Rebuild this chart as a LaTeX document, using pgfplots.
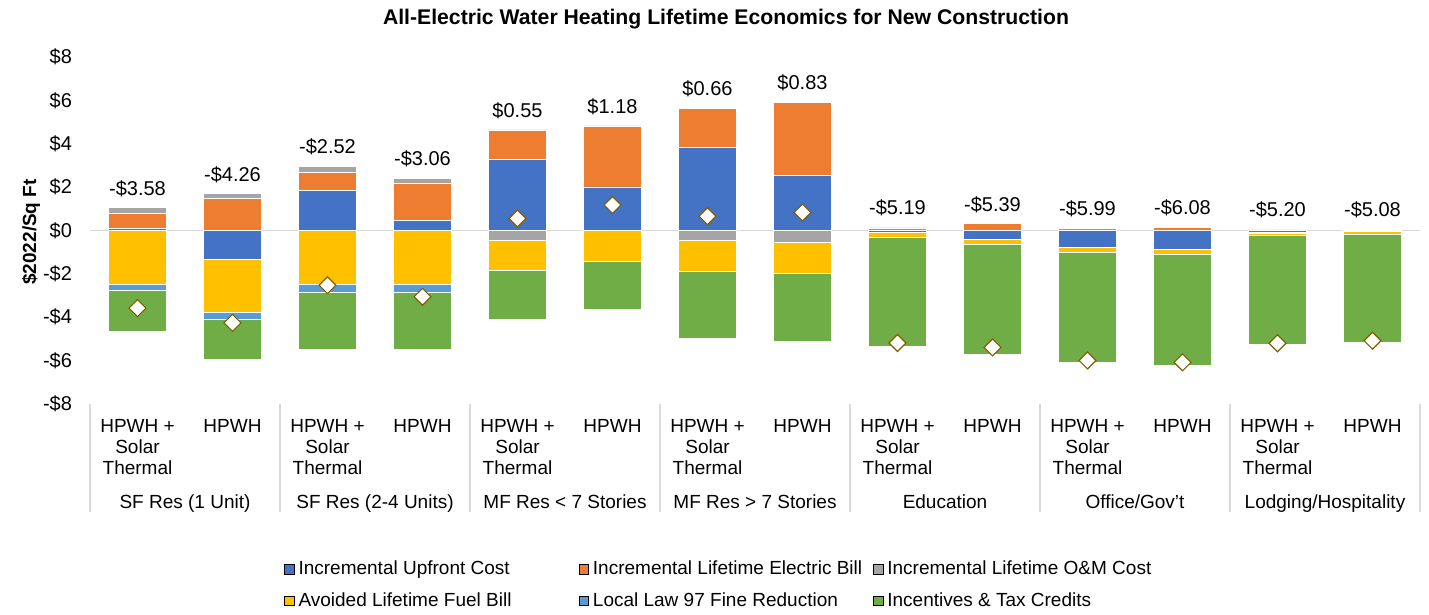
\documentclass[border=0pt]{standalone}
\usepackage{pgfplots}
\usepackage{pgfplotstable}
\pgfplotsset{compat=1.18}
\usepackage{fontspec}
\setmainfont{Liberation Sans}

\definecolor{cblue}{HTML}{4472C4}
\definecolor{corange}{HTML}{ED7D31}
\definecolor{cgray}{HTML}{A5A5A5}
\definecolor{cyellow}{HTML}{FFC000}
\definecolor{clblue}{HTML}{5B9BD5}
\definecolor{cgreen}{HTML}{70AD47}
\definecolor{dmd}{HTML}{7F6000}
\definecolor{zline}{HTML}{D9D9D9}

% positive parts of each bar ($/sq ft)
\pgfplotstableread{
x blue orange gray
0  0.08 0.71 0.26
1  0.00 1.48 0.22
2  1.83 0.85 0.28
3  0.45 1.74 0.22
4  3.29 1.35 0.00
5  2.01 2.81 0.00
6  3.83 1.80 0.00
7  2.54 3.38 0.00
8  0.00 0.12 0.03
9  0.00 0.31 0.00
10 0.00 0.08 0.03
11 0.00 0.14 0.00
12 0.00 0.03 0.03
13 0.00 0.06 0.00
}\pos

% negative parts
\pgfplotstableread{
x blue gray yellow lblue green
0   0.00  0.00 -2.46 -0.31 -1.86
1  -1.32  0.00 -2.44 -0.32 -1.88
2   0.00  0.00 -2.46 -0.40 -2.62
3   0.00  0.00 -2.46 -0.37 -2.64
4   0.00 -0.46 -1.38  0.00 -2.25
5   0.00  0.00 -1.41  0.00 -2.23
6   0.00 -0.46 -1.40  0.00 -3.11
7   0.00 -0.55 -1.41  0.00 -3.13
8  -0.08  0.00 -0.23  0.00 -5.03
9  -0.40  0.00 -0.23  0.00 -5.07
10 -0.77  0.00 -0.25  0.00 -5.08
11 -0.89  0.00 -0.23  0.00 -5.10
12 -0.10 -0.04 -0.10  0.00 -5.02
13 -0.06  0.00 -0.10  0.00 -4.98
}\neg

% net value
\pgfplotstableread{
x net
0  -3.58
1  -4.26
2  -2.52
3  -3.06
4   0.55
5   1.18
6   0.66
7   0.83
8  -5.19
9  -5.39
10 -5.99
11 -6.08
12 -5.20
13 -5.08
}\net

\pgfplotsset{
  base/.style={scale only axis, width=665pt, height=173.5pt,
    at={(0pt,0pt)}, anchor=south west,
    xmin=-0.5, xmax=13.5, ymin=-8, ymax=8, enlargelimits=false},
  seg/.style={fill=#1, draw=white, line width=0.3pt},
}
\tikzset{grp/.style={font=\fontsize{9.5}{11}\selectfont, anchor=base, yshift=-52.25pt}}

\begin{document}
\begin{tikzpicture}
\path[use as bounding box] (-45pt,-105.5pt) rectangle (669.5pt,202pt);

\begin{axis}[base, ybar stacked, bar width=29pt, clip=false,
  axis line style={draw=none}, major tick length=0pt, tick style={draw=none},
  ytick={-8,-6,...,8},
  yticklabels={-\$8,-\$6,-\$4,-\$2,\$0,\$2,\$4,\$6,\$8},
  yticklabel style={font=\fontsize{10}{12}\selectfont, xshift=-5.5pt},
  xtick={0,...,13},
  xticklabels={{HPWH +\\Solar\\Thermal},HPWH,{HPWH +\\Solar\\Thermal},HPWH,
    {HPWH +\\Solar\\Thermal},HPWH,{HPWH +\\Solar\\Thermal},HPWH,
    {HPWH +\\Solar\\Thermal},HPWH,{HPWH +\\Solar\\Thermal},HPWH,
    {HPWH +\\Solar\\Thermal},HPWH},
  xticklabel style={font=\fontsize{9.5}{10.5}\selectfont, align=center, anchor=north, yshift=-4pt},
]
\draw[zline, line width=0.8pt] (axis cs:-0.5,0) -- (axis cs:13.5,0);
\pgfplotsinvokeforeach{-0.5,1.5,3.5,5.5,7.5,9.5,11.5,13.5}{
  \draw[zline, line width=0.8pt] (axis cs:#1,-8) -- ++(0pt,-54pt);
}
\node[grp] at (axis cs:0.5,-8) {SF Res (1 Unit)};
\node[grp] at (axis cs:2.5,-8) {SF Res (2-4 Units)};
\node[grp] at (axis cs:4.5,-8) {MF Res < 7 Stories};
\node[grp] at (axis cs:6.5,-8) {MF Res > 7 Stories};
\node[grp] at (axis cs:8.5,-8) {Education};
\node[grp] at (axis cs:10.5,-8) {Office/Gov't};
\node[grp] at (axis cs:12.5,-8) {Lodging/Hospitality};
\addplot[seg=cblue] table[x=x, y=blue]{\pos};
\addplot[seg=corange] table[x=x, y=orange]{\pos};
\addplot[seg=cgray] table[x=x, y=gray]{\pos};
\end{axis}

\begin{axis}[base, ybar stacked, bar width=29pt, hide axis]
\addplot[seg=cblue] table[x=x, y=blue]{\neg};
\addplot[seg=cgray] table[x=x, y=gray]{\neg};
\addplot[seg=cyellow] table[x=x, y=yellow]{\neg};
\addplot[seg=clblue] table[x=x, y=lblue]{\neg};
\addplot[seg=cgreen] table[x=x, y=green]{\neg};
\end{axis}

\begin{axis}[base, hide axis, clip=false,
  legend columns=3,
  legend cell align=left,
  legend image code/.code={\fill[#1] (0pt,-2.4pt) rectangle (4.8pt,2.4pt);},
  legend style={at={(axis description cs:0.478,-0.522)}, anchor=center,
    draw=none, fill=none, font=\fontsize{9.5}{11}\selectfont,
    row sep=3.5pt, inner sep=0pt,
    /tikz/every even column/.append style={column sep=0pt}},
]
\addlegendimage{fill=cblue}
\addlegendentry{\makebox[138pt][l]{Incremental Upfront Cost}}
\addlegendimage{fill=corange}
\addlegendentry{\makebox[138pt][l]{Incremental Lifetime Electric Bill}}
\addlegendimage{fill=cgray}
\addlegendentry{\makebox[138pt][l]{Incremental Lifetime O\&M Cost}}
\addlegendimage{fill=cyellow}
\addlegendentry{\makebox[138pt][l]{Avoided Lifetime Fuel Bill}}
\addlegendimage{fill=clblue}
\addlegendentry{\makebox[138pt][l]{Local Law 97 Fine Reduction}}
\addlegendimage{fill=cgreen}
\addlegendentry{\makebox[138pt][l]{Incentives \& Tax Credits}}

\addplot[only marks, mark=square*, mark size=3pt,
  mark options={rotate=45, fill=white, draw=dmd, line width=0.6pt}, forget plot]
  table[x=x, y=net]{\net};

\addplot[draw=none, mark=none, forget plot, nodes near coords, point meta=explicit symbolic,
  every node near coord/.append style={font=\fontsize{10}{12}\selectfont, yshift=2pt}]
  coordinates {
  (0,1.05)[-\$3.58] (1,1.70)[-\$4.26] (2,2.96)[-\$2.52] (3,2.41)[-\$3.06]
  (4,4.64)[\$0.55] (5,4.82)[\$1.18] (6,5.63)[\$0.66] (7,5.92)[\$0.83]
  (8,0.15)[-\$5.19] (9,0.31)[-\$5.39] (10,0.11)[-\$5.99] (11,0.14)[-\$6.08]
  (12,0.06)[-\$5.20] (13,0.06)[-\$5.08]
  };
\end{axis}

\node[font=\bfseries\fontsize{10.6}{12}\selectfont] at (318pt,192.5pt)
  {All-Electric Water Heating Lifetime Economics for New Construction};
\node[rotate=90, font=\bfseries\fontsize{9.5}{11}\selectfont] at (-29.5pt,86pt) {\$2022/Sq Ft};
\end{tikzpicture}
\end{document}
